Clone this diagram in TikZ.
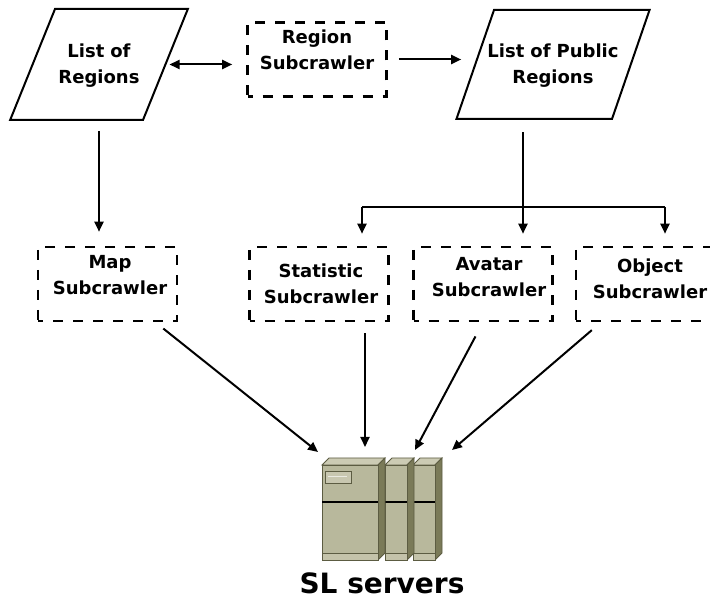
\documentclass[tikz,border=0pt]{standalone}
\usepackage{fontspec}
\setmainfont{DejaVu Sans}
\usetikzlibrary{shapes.geometric,arrows.meta}
\definecolor{srvfront}{RGB}{184,184,156}
\definecolor{srvtop}{RGB}{204,203,180}
\definecolor{srvside}{RGB}{122,122,88}
\definecolor{srvbase}{RGB}{196,195,170}
\definecolor{srvline}{RGB}{92,92,66}
\definecolor{srvpanel}{RGB}{200,199,176}
\tikzset{
  txt/.style={align=center,font=\fontsize{18}{26}\selectfont\bfseries},
  list/.style={txt,draw,line width=2pt,trapezium,inner sep=0pt},
  sub/.style={draw,line width=2.6pt,dash pattern=on 10pt off 10pt,dash phase=5pt,
    minimum width=139pt,minimum height=74pt}
}
\begin{document}
\begin{tikzpicture}[x=1pt,y=-1pt,line width=2pt,>={Triangle[length=10pt,width=9pt]}]
  \useasboundingbox (0,0) rectangle (710,601);
  \node[list,trapezium left angle=68,trapezium right angle=112,
    text width=88pt,text height=49pt,text depth=62pt] (regions) at (99,64.5) {List of\\Regions};
  \node[list,trapezium left angle=71,trapezium right angle=109,
    text width=118pt,text height=48pt,text depth=61pt] (public) at (553,64.5)
    {\makebox[118pt]{List of Public}\\Regions};
  \node[sub] (region) at (317,59.5) {};
  \node[txt] (regiontxt) at (317,50) {Region\\Subcrawler};
  \node[sub] (map) at (107.5,284) {};
  \node[txt] (maptxt) at (110,275.5) {Map\\Subcrawler};
  \node[sub] (stat) at (319,284) {};
  \node[txt] (stattxt) at (321,283.5) {Statistic\\Subcrawler};
  \node[sub] (avatar) at (483,284) {};
  \node[txt] (avatartxt) at (489,277.5) {Avatar\\Subcrawler};
  \node[sub] (object) at (645.5,284) {};
  \node[txt] (objecttxt) at (650,278.5) {Object\\Subcrawler};

  \coordinate (split) at (523,207);
  \coordinate (sl) at (362,207);
  \coordinate (sr) at (665,207);
  \coordinate (in1) at (318,452);
  \coordinate (in2) at (365,447);
  \coordinate (in3) at (415,450);
  \coordinate (in4) at (452,450);

  \draw[<->,shorten <=3pt,shorten >=14pt] (regions.east) -- (regions.east -| region.west);
  \draw[->,shorten <=11pt,shorten >=13pt] (region.east) -- (region.east -| public.west);
  \draw[->,shorten <=10pt,shorten >=14pt] (regions.center |- regions.south) -- (regions.center |- map.north);
  \draw[->,shorten <=12pt,shorten >=12pt] (split |- public.south) -- (split |- avatar.north);
  \draw (sl) -- (sr);
  \draw[->,shorten >=12pt] (sl) -- (sl |- stat.north);
  \draw[->,shorten >=12pt] (sr) -- (sr |- object.north);
  \draw[->,shorten <=10pt] (map) -- (in1);
  \draw[->,shorten <=11pt] (in2 |- stat.south) -- (in2);
  \draw[->,shorten <=16pt] (avatar.south) -- (in3);
  \draw[->,shorten <=12pt] (object) -- (in4);

  \begin{scope}[line width=0.8pt,draw=srvline]
    \foreach \a/\b in {413/435,385/407,322/378}{
      \filldraw[fill=srvtop] (\a,465) -- (\b,465) -- (\b+7,458) -- (\a+7,458) -- cycle;
      \filldraw[fill=srvside] (\b,465) -- (\b+7,458) -- (\b+7,553) -- (\b,560) -- cycle;
      \filldraw[fill=srvfront] (\a,465) rectangle (\b,560);
      \filldraw[fill=srvbase] (\a,553) rectangle (\b,560);
      \draw[black,line width=1.6pt] (\a,502) -- (\b,502);
    }
    \filldraw[fill=srvpanel] (325,471) rectangle (351,483);
    \draw[white!70!srvfront,line width=1pt] (328,477) -- (347,477);
  \end{scope}
  \node[font=\fontsize{28}{30}\selectfont\bfseries] (servers) at (382,583) {SL servers};
\end{tikzpicture}
\end{document}
